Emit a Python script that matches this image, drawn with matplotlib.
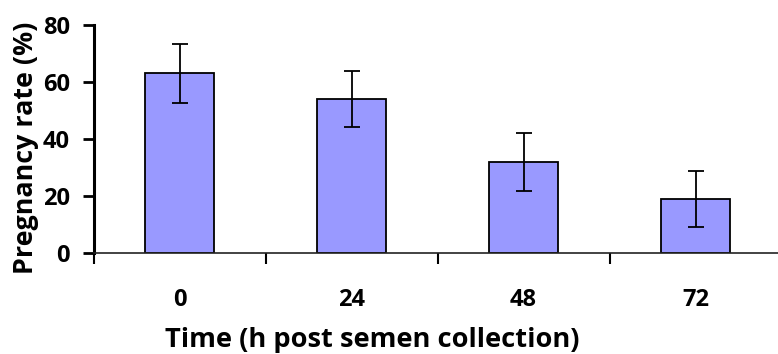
import numpy as np
import matplotlib
matplotlib.use('Agg')
import matplotlib.pyplot as plt

# pregnancy rate by hours after semen collection
times = ['0', '24', '48', '72']
rates = [63, 54, 32, 19]
errors = [10.3, 9.8, 10.2, 9.8]

plt.rcParams['font.family'] = ['Open Sans', 'DejaVu Sans']
plt.rcParams['font.weight'] = 'bold'

fig = plt.figure(figsize=(7.78, 3.54), dpi=100)
# axes runs slightly past the right edge of the figure
ax = fig.add_axes([93.5 / 778, 101 / 354, 688 / 778, 228 / 354])

x = np.arange(len(times))
ax.bar(x, rates, width=0.4, color='#9999FF', edgecolor='black', linewidth=1.3, zorder=2)
ax.errorbar(x, rates, yerr=errors, fmt='none', ecolor='black', elinewidth=1.3,
            capsize=5.8, capthick=1.3, zorder=3)

ax.set_xlim(-0.5, 3.5)
ax.set_ylim(0, 80)
ax.set_yticks([0, 20, 40, 60, 80])

# category labels at bar centres, tick marks between categories
ax.set_xticks(x)
ax.set_xticklabels(times)
ax.tick_params(axis='x', which='major', length=0, pad=25, labelsize=17)
ax.set_xticks(np.arange(-0.5, 4, 1), minor=True)
ax.tick_params(axis='x', which='minor', length=8, width=1.5, direction='out')
ax.tick_params(axis='y', length=8, width=2, direction='out', pad=9, labelsize=17)

for lab in ax.get_xticklabels() + ax.get_yticklabels():
    lab.set_fontweight('bold')

ax.spines['top'].set_visible(False)
ax.spines['right'].set_visible(False)
ax.spines['left'].set_linewidth(2.2)
ax.spines['bottom'].set_linewidth(1.2)
ax.spines['bottom'].set_color('#222222')

# axis titles placed in figure coordinates
fig.text(26 / 778, 1 - 147.5 / 354, 'Pregnancy rate (%)', rotation=90,
         ha='center', va='center', fontsize=19.4, fontweight='bold')
fig.text(372 / 778, 1 / 354, 'Time (h post semen collection)',
         ha='center', va='bottom', fontsize=19.6, fontweight='bold')

fig.savefig('out.png', dpi=100)
